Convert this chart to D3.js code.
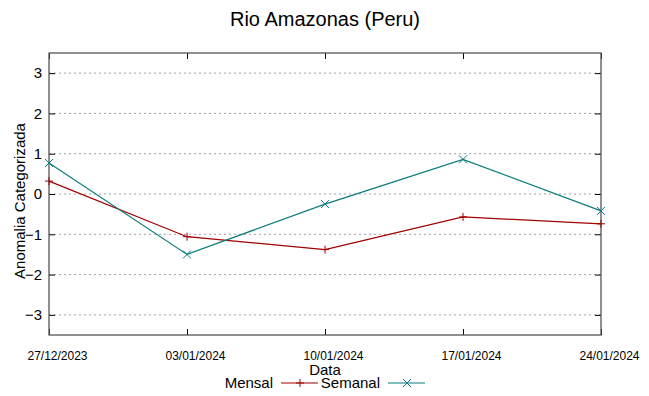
<!DOCTYPE html>
<html>
<head>
<meta charset="utf-8">
<script src="https://cdn.jsdelivr.net/npm/d3@7"></script>
<style>
  body { margin: 0; background: #fff; }
  text { font-family: "Liberation Sans", Arial, sans-serif; fill: #000; }
</style>
</head>
<body>
<svg id="chart" width="649" height="396"></svg>
<script>
// dates on the x axis
var dates = ["27/12/2023", "03/01/2024", "10/01/2024", "17/01/2024", "24/01/2024"];
var mensal = [0.32, -1.06, -1.38, -0.57, -0.74];
var semanal = [0.77, -1.50, -0.25, 0.86, -0.42];
var yTicks = [-3, -2, -1, 0, 1, 2, 3];

var width = 649, height = 396;
var plotLeft = 49, plotRight = 601, plotTop = 53, plotBottom = 335;

var svg = d3.select("#chart");

var parse = d3.timeParse("%d/%m/%Y");
var x = d3.scaleTime()
    .domain([parse(dates[0]), parse(dates[dates.length - 1])])
    .range([plotLeft, plotRight]);
var y = d3.scaleLinear().domain([-3.5, 3.5]).range([plotBottom, plotTop]);

// horizontal dotted grid
svg.append("g").selectAll("line").data(yTicks).enter().append("line")
    .attr("x1", plotLeft).attr("x2", plotRight)
    .attr("y1", function(d) { return y(d); })
    .attr("y2", function(d) { return y(d); })
    .attr("stroke", "#a0a0a0")
    .attr("stroke-width", 1)
    .attr("stroke-dasharray", "2,3");

// y axis (left + mirror on right)
var yAxis = d3.axisLeft(y).tickValues(yTicks).tickSize(-6).tickPadding(7).tickFormat(d3.format("d"));
var gy = svg.append("g").attr("transform", "translate(" + plotLeft + ",0)").call(yAxis);
gy.select(".domain").remove();
gy.selectAll("line").attr("stroke", "#000");
gy.selectAll("text").style("font-size", "15px").style("font-family", "Liberation Sans, Arial, sans-serif").attr("fill", "#000");

var gyr = svg.append("g").attr("transform", "translate(" + plotRight + ",0)")
    .call(d3.axisRight(y).tickValues(yTicks).tickSize(-6).tickFormat(""));
gyr.select(".domain").remove();
gyr.selectAll("line").attr("stroke", "#000");

// x axis (bottom + mirror on top)
var xAxis = d3.axisBottom(x).tickValues(dates.map(parse)).tickSize(-6).tickPadding(16)
    .tickFormat(d3.timeFormat("%d/%m/%Y"));
var gx = svg.append("g").attr("transform", "translate(0," + plotBottom + ")").call(xAxis);
gx.select(".domain").remove();
gx.selectAll("line").attr("stroke", "#000");
gx.selectAll("text").attr("dx", 8).style("font-size", "12px").style("font-family", "Liberation Sans, Arial, sans-serif").attr("fill", "#000");

var gxt = svg.append("g").attr("transform", "translate(0," + plotTop + ")")
    .call(d3.axisTop(x).tickValues(dates.map(parse)).tickSize(-6).tickFormat(""));
gxt.select(".domain").remove();
gxt.selectAll("line").attr("stroke", "#000");

// border
svg.append("rect")
    .attr("x", plotLeft).attr("y", plotTop)
    .attr("width", plotRight - plotLeft).attr("height", plotBottom - plotTop)
    .attr("fill", "none").attr("stroke", "#555").attr("stroke-width", 1.3);

var series = [
    { name: "Mensal", values: mensal, color: "#a00000", mark: "plus" },
    { name: "Semanal", values: semanal, color: "#0a7c7c", mark: "cross" }
];

var line = d3.line()
    .x(function(d, i) { return x(parse(dates[i])); })
    .y(function(d) { return y(d); });

function drawMark(g, cx, cy, mark, color) {
    var s = 4;
    if (mark == "plus") {
        g.append("path").attr("d", "M" + (cx - s) + "," + cy + "H" + (cx + s) + "M" + cx + "," + (cy - s) + "V" + (cy + s))
            .attr("stroke", color).attr("stroke-width", 1);
    } else {
        g.append("path").attr("d", "M" + (cx - s) + "," + (cy - s) + "L" + (cx + s) + "," + (cy + s) + "M" + (cx - s) + "," + (cy + s) + "L" + (cx + s) + "," + (cy - s))
            .attr("stroke", color).attr("stroke-width", 1);
    }
}

series.forEach(function(s) {
    var g = svg.append("g");
    g.append("path").datum(s.values)
        .attr("d", line)
        .attr("fill", "none")
        .attr("stroke", s.color)
        .attr("stroke-width", 1.2);
    s.values.forEach(function(v, i) {
        drawMark(g, x(parse(dates[i])), y(v), s.mark, s.color);
    });
});

// title and axis labels
svg.append("text").attr("x", 325).attr("y", 26).attr("text-anchor", "middle")
    .style("font-size", "20px").text("Rio Amazonas (Peru)");
svg.append("text").attr("transform", "translate(25,201) rotate(-90)").attr("text-anchor", "middle")
    .style("font-size", "15px").text("Anomalia Categorizada");
svg.append("text").attr("x", 325).attr("y", 375).attr("text-anchor", "middle")
    .style("font-size", "15px").text("Data");

// legend
var legendX = [273, 380];
series.forEach(function(s, i) {
    var lx = legendX[i];
    svg.append("text").attr("x", lx).attr("y", 388).attr("text-anchor", "end")
        .style("font-size", "15px").text(s.name);
    svg.append("line").attr("x1", lx + 8).attr("x2", lx + 45).attr("y1", 383).attr("y2", 383)
        .attr("stroke", s.color).attr("stroke-width", 1.2);
    drawMark(svg, lx + 27, 383, s.mark, s.color);
});
</script>
</body>
</html>
